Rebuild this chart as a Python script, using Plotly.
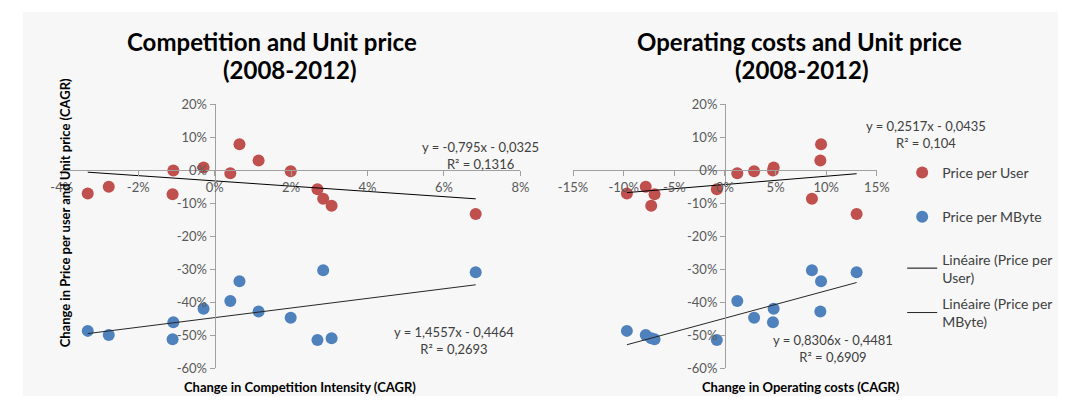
import numpy as np
import plotly.graph_objects as go

# Figure canvas in pixels; every position below is given in canvas pixels
W, H = 1071, 410

# Country observations (CAGR 2008-2012)
competition = [-0.0332, -0.0277, -0.0108, -0.0110, -0.0029, 0.0041, 0.0065,
               0.0115, 0.0199, 0.0269, 0.0284, 0.0306, 0.0683]
op_costs = [-0.0968, -0.0782, 0.0474, -0.0695, 0.0481, 0.0122, 0.0949,
            0.0942, 0.0288, -0.0080, 0.0859, -0.0728, 0.1300]
price_user = [-0.0706, -0.0500, -0.0010, -0.0730, 0.0080, -0.0090, 0.0782,
              0.0290, -0.0030, -0.0575, -0.0865, -0.1080, -0.1330]
price_mbyte = [-0.4865, -0.4990, -0.4605, -0.5120, -0.4195, -0.3960, -0.3360,
               -0.4280, -0.4470, -0.5145, -0.3030, -0.5085, -0.3090]

# Linear trend coefficients (slope, intercept) and R²
trend_comp_user = (-0.795, -0.0325, 0.1316)
trend_comp_mbyte = (1.4557, -0.4464, 0.2693)
trend_op_user = (0.2517, -0.0435, 0.104)
trend_op_mbyte = (0.8306, -0.4481, 0.6909)

# Axis ticks
y_ticks = [0.2, 0.1, 0.0, -0.1, -0.2, -0.3, -0.4, -0.5, -0.6]
y_labels = ["20%", "10%", "0%", "-10%", "-20%", "-30%", "-40%", "-50%", "-60%"]
x1_ticks = [-0.04, -0.02, 0.0, 0.02, 0.04, 0.06, 0.08]
x1_labels = ["-4%", "-2%", "0%", "2%", "4%", "6%", "8%"]
x2_ticks = [-0.15, -0.10, -0.05, 0.0, 0.05, 0.10, 0.15]
x2_labels = ["-15%", "-10%", "-5%", "0%", "5%", "10%", "15%"]

RED = "#C0504D"
BLUE = "#4F81BD"
AXIS = "#A0A0A0"
TXT = "#404040"
FONT = "Lato"


def fx(p):
    return p / W


def fy(p):
    return 1 - p / H


def fmt(v, nd):
    return f"{abs(v):.{nd}f}".replace(".", ",")


def eq_text(tr):
    s, b, r2 = tr
    sign = "-" if b < 0 else "+"
    sd = len(str(abs(s)).split(".")[1])
    bd = len(str(abs(b)).split(".")[1])
    rd = len(str(r2).split(".")[1])
    s_txt = ("-" if s < 0 else "") + fmt(s, sd)
    return f"y = {s_txt}x {sign} {fmt(b, bd)}<br>R² = {fmt(r2, rd)}"


def trend_xy(xs, tr):
    xa = np.array([min(xs), max(xs)])
    return xa, tr[0] * xa + tr[1]


x1_dom = [fx(48), fx(519)]
x2_dom = [fx(573), fx(885)]
y_dom = [fy(375), fy(100)]
y_rng = [-0.6, 0.2]
x1_rng = [-0.04, 0.08]
x2_rng = [-0.15, 0.15]

y0_pos = y_dom[0] + (0 - y_rng[0]) / (y_rng[1] - y_rng[0]) * (y_dom[1] - y_dom[0])
x1_zero = x1_dom[0] + (0 - x1_rng[0]) / (x1_rng[1] - x1_rng[0]) * (x1_dom[1] - x1_dom[0])
x2_zero = x2_dom[0] + (0 - x2_rng[0]) / (x2_rng[1] - x2_rng[0]) * (x2_dom[1] - x2_dom[0])

fig = go.Figure()

marker_kw = dict(size=12)

# Left chart (its traces feed both legends)
fig.add_trace(go.Scatter(x=competition, y=price_user, mode="markers",
                         marker=dict(color=RED, **marker_kw), name="Price per User",
                         legend="legend", legendgroup="user", xaxis="x", yaxis="y"))
fig.add_trace(go.Scatter(x=competition, y=price_mbyte, mode="markers",
                         marker=dict(color=BLUE, **marker_kw), name="Price per MByte",
                         legend="legend", legendgroup="mbyte", xaxis="x", yaxis="y"))
tx, ty = trend_xy(competition, trend_comp_user)
fig.add_trace(go.Scatter(x=tx, y=ty, mode="lines", line=dict(color="#000000", width=1),
                         name="Linéaire (Price per<br>User)", legend="legend2",
                         legendgroup="lin_user", xaxis="x", yaxis="y"))
tx, ty = trend_xy(competition, trend_comp_mbyte)
fig.add_trace(go.Scatter(x=tx, y=ty, mode="lines", line=dict(color="#262626", width=1),
                         name="Linéaire (Price per<br>MByte)", legend="legend2",
                         legendgroup="lin_mbyte", xaxis="x", yaxis="y"))

# Right chart
fig.add_trace(go.Scatter(x=op_costs, y=price_user, mode="markers",
                         marker=dict(color=RED, **marker_kw), showlegend=False,
                         legendgroup="user", xaxis="x2", yaxis="y2"))
fig.add_trace(go.Scatter(x=op_costs, y=price_mbyte, mode="markers",
                         marker=dict(color=BLUE, **marker_kw), showlegend=False,
                         legendgroup="mbyte", xaxis="x2", yaxis="y2"))
tx, ty = trend_xy(op_costs, trend_op_user)
fig.add_trace(go.Scatter(x=tx, y=ty, mode="lines", line=dict(color="#000000", width=1),
                         showlegend=False, legendgroup="lin_user", xaxis="x2", yaxis="y2"))
tx, ty = trend_xy(op_costs, trend_op_mbyte)
fig.add_trace(go.Scatter(x=tx, y=ty, mode="lines", line=dict(color="#262626", width=1),
                         showlegend=False, legendgroup="lin_mbyte", xaxis="x2", yaxis="y2"))

tickfont = dict(family=FONT, size=13, color="#595959")
common_x = dict(showgrid=False, zeroline=False, showline=True, linecolor=AXIS,
                linewidth=1, ticks="outside", ticklen=5, tickcolor=AXIS,
                tickfont=tickfont, anchor="free", fixedrange=True)
common_y = dict(showgrid=False, zeroline=False, showline=True, linecolor=AXIS,
                linewidth=1, ticks="outside", ticklen=5, tickcolor=AXIS,
                tickfont=tickfont, anchor="free", range=y_rng, domain=y_dom,
                tickvals=y_ticks, ticktext=y_labels, fixedrange=True)

annotations = []


def add_text(x, y, text, size=13, bold=False, color=TXT, angle=0):
    if bold:
        text = f"<b>{text}</b>"
    annotations.append(dict(xref="paper", yref="paper", x=fx(x), y=fy(y),
                            text=text, showarrow=False, textangle=angle,
                            xanchor="center", yanchor="middle",
                            font=dict(family=FONT, size=size, color=color)))


# Titles
add_text(264, 35, "Competition and Unit price", size=24, bold=True, color="#000000")
add_text(282, 64, "(2008-2012)", size=24, bold=True, color="#000000")
add_text(806, 35, "Operating costs and Unit price", size=24, bold=True, color="#000000")
add_text(808, 64, "(2008-2012)", size=24, bold=True, color="#000000")

# Axis titles
add_text(293, 394, "Change in Competition Intensity (CAGR)", size=13, bold=True, color="#000000")
add_text(807, 394, "Change in Operating costs (CAGR)", size=13, bold=True, color="#000000")
add_text(51, 213, "Change in Price per user and Unit price (CAGR)", size=13, bold=True,
         color="#000000", angle=-90)

# Trend equations
add_text(478, 154, eq_text(trend_comp_user))
add_text(451, 346, eq_text(trend_comp_mbyte))
add_text(935, 132, eq_text(trend_op_user))
add_text(840, 354, eq_text(trend_op_mbyte))

legend_font = dict(family=FONT, size=14, color=TXT)

fig.update_layout(
    width=W, height=H,
    margin=dict(l=0, r=0, t=0, b=0),
    paper_bgcolor="#FFFFFF",
    plot_bgcolor="rgba(0,0,0,0)",
    font=dict(family=FONT, color=TXT),
    xaxis=dict(domain=x1_dom, range=x1_rng, tickvals=x1_ticks, ticktext=x1_labels,
               position=y0_pos, **common_x),
    yaxis=dict(position=x1_zero, **common_y),
    xaxis2=dict(domain=x2_dom, range=x2_rng, tickvals=x2_ticks, ticktext=x2_labels,
                position=y0_pos, **common_x),
    yaxis2=dict(position=x2_zero, **common_y),
    showlegend=True,
    legend=dict(x=fx(911), y=fy(155), xanchor="left", yanchor="top",
                bgcolor="rgba(0,0,0,0)", font=legend_font,
                tracegroupgap=23, itemwidth=30, traceorder="grouped"),
    legend2=dict(x=fx(911), y=fy(245), xanchor="left", yanchor="top",
                 bgcolor="rgba(0,0,0,0)", font=legend_font,
                 tracegroupgap=5, itemwidth=30, traceorder="grouped"),
    annotations=annotations,
    shapes=[dict(type="rect", xref="paper", yref="paper", x0=fx(8), x1=1,
                 y0=fy(404), y1=fy(4), fillcolor="#F7F7F7", line=dict(width=0),
                 layer="below")],
)

fig.write_html("out.html")
